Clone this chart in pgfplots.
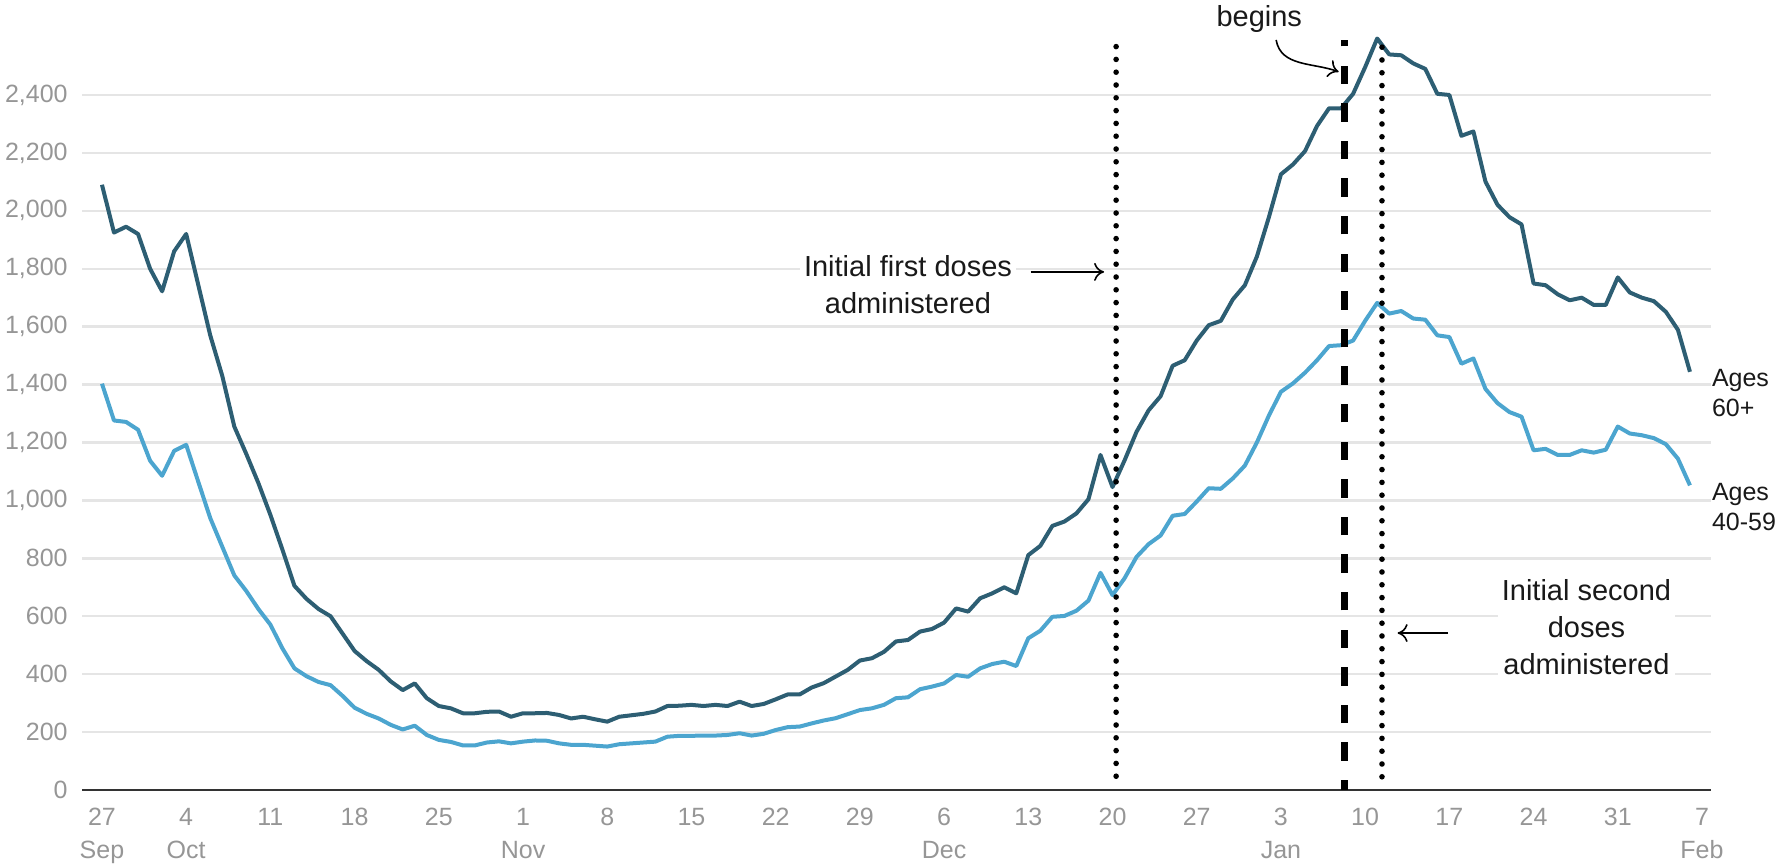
\documentclass[border=0pt]{standalone}
\usepackage{fontspec}
\setmainfont{Liberation Sans}
\usepackage{pgfplots}
\pgfplotsset{compat=1.18}
\usepackage{pgfplotstable}
\usetikzlibrary{arrows.meta}
\definecolor{old}{RGB}{45,94,115}
\definecolor{mid}{RGB}{76,165,207}
\definecolor{ticktxt}{RGB}{150,150,150}
\definecolor{gridc}{RGB}{229,229,229}

% day 0 = 27 Sep; daily values
\pgfplotstableread{
day a60 a40
0 2090 1403
1 1925 1276
2 1945 1271
3 1920 1244
4 1800 1137
5 1722 1085
6 1860 1171
7 1920 1192
8 1745 1065
9 1570 939
10 1430 840
11 1255 741
12 1160 687
13 1060 625
14 950 571
15 830 489
16 705 420
17 660 393
18 625 373
19 600 362
20 540 325
21 480 284
22 445 263
23 415 247
24 375 225
25 345 209
26 368 222
27 317 190
28 290 173
29 282 166
30 265 154
31 265 154
32 270 164
33 271 168
34 253 161
35 265 167
36 265 171
37 266 170
38 259 161
39 247 156
40 253 156
41 244 153
42 236 150
43 253 158
44 258 161
45 263 164
46 271 167
47 290 184
48 291 187
49 294 187
50 290 188
51 294 188
52 290 190
53 305 196
54 290 188
55 297 194
56 313 207
57 330 217
58 330 219
59 354 230
60 369 240
61 392 248
62 415 262
63 447 276
64 455 282
65 477 294
66 513 317
67 518 320
68 547 348
69 556 357
70 578 368
71 627 397
72 616 391
73 662 420
74 679 435
75 700 443
76 679 428
77 811 524
78 843 550
79 912 598
80 927 601
81 955 619
82 1004 654
83 1157 750
84 1046 673
85 1138 731
86 1237 805
87 1311 849
88 1360 879
89 1465 947
90 1484 953
91 1552 996
92 1605 1042
93 1620 1040
94 1694 1076
95 1743 1120
96 1842 1200
97 1978 1293
98 2126 1375
99 2160 1404
100 2206 1441
101 2293 1484
102 2354 1533
103 2354 1536
104 2404 1552
105 2496 1620
106 2595 1682
107 2540 1645
108 2537 1654
109 2509 1628
110 2490 1624
111 2404 1570
112 2400 1564
113 2259 1472
114 2274 1490
115 2101 1385
116 2021 1336
117 1978 1305
118 1953 1289
119 1749 1173
120 1743 1178
121 1712 1157
122 1691 1157
123 1700 1173
124 1675 1165
125 1675 1175
126 1770 1255
127 1718 1231
128 1700 1225
129 1688 1215
130 1651 1194
131 1589 1144
132 1444 1052
}\hospdata

\begin{document}
\begin{tikzpicture}
\begin{axis}[
    name=ax,
    scale only axis,
    width=814.5pt, height=395pt,
    xmin=-1.66, xmax=133.75,
    ymin=0, ymax=2728,
    clip=false,
    axis x line*=bottom, axis y line*=left,
    y axis line style={draw=none},
    x axis line style={draw=black!80, line width=1.3pt},
    major tick length=0pt,
    ymajorgrids,
    grid style={gridc, line width=1.2pt},
    ytick={0,200,...,2400},
    xtick={0,7,...,133},
    xticklabels={27\\Sep, 4\\Oct, 11, 18, 25, 1\\Nov, 8, 15, 22, 29, 6\\Dec, 13, 20, 27, 3\\Jan, 10, 17, 24, 31, 7\\Feb},
    xticklabel style={font=\fontsize{12.5}{16.5}\selectfont, text=ticktxt, align=center, anchor=north, inner sep=0pt, yshift=-9pt},
    yticklabel style={font=\fontsize{12.5}{15}\selectfont, text=ticktxt, anchor=east, inner sep=0pt, xshift=-7pt},
    /pgf/number format/assume math mode=true,
    /pgf/number format/1000 sep={,},
]
\addplot[mid, line width=2pt, line join=round] table[x=day, y=a40] {\hospdata};
\addplot[old, line width=2pt, line join=round] table[x=day, y=a60] {\hospdata};

% event markers
\draw[line width=2.8pt, line cap=round, dash pattern=on 0pt off 6.4pt] (axis cs:84.3,2567) -- (axis cs:84.3,30);
\draw[line width=2.8pt, line cap=round, dash pattern=on 0pt off 6.4pt] (axis cs:106.4,2565) -- (axis cs:106.4,30);
\draw[line width=3.3pt, dash pattern=on 9.2pt off 9.6pt, dash phase=4.2pt] (axis cs:103.3,0) -- (axis cs:103.3,2590);

% annotations
\node[fill=white, inner sep=2pt, align=center, text=black!90, font=\fontsize{14.5}{18.5}\selectfont] at (axis cs:67,1744) {Initial first doses\\administered};
\draw[-{To[length=5pt,width=9pt]}, line width=0.8pt] (axis cs:77.2,1789) -- (axis cs:83.3,1789);
\node[fill=white, inner sep=2pt, align=center, text=black!90, font=\fontsize{14.5}{18.5}\selectfont] at (axis cs:123.4,563) {Initial second\\doses\\administered};
\draw[-{To[length=5pt,width=9pt]}, line width=0.8pt] (axis cs:111.9,542) -- (axis cs:107.7,542);
\node[anchor=base, inner sep=0pt, text=black!90, font=\fontsize{14.5}{18.5}\selectfont] at (axis cs:96.2,2635) {begins};
\draw[-{To[length=5pt,width=9pt]}, line width=0.8pt] (axis cs:97.6,2590) to[out=-80,in=160] (axis cs:102.8,2480);

\node[anchor=west, inner sep=0pt, align=left, text=black!90, font=\fontsize{12.5}{15}\selectfont] at (axis cs:133.8,1371) {Ages\\60+};
\node[anchor=west, inner sep=0pt, align=left, text=black!90, font=\fontsize{12.5}{15}\selectfont] at (axis cs:133.8,977) {Ages\\40-59};
\end{axis}
\pgfresetboundingbox
\path[use as bounding box] ([shift={(-41pt,-37.5pt)}]ax.south west) rectangle ([shift={(847.5pt,395pt)}]ax.south west);
\end{tikzpicture}
\end{document}
